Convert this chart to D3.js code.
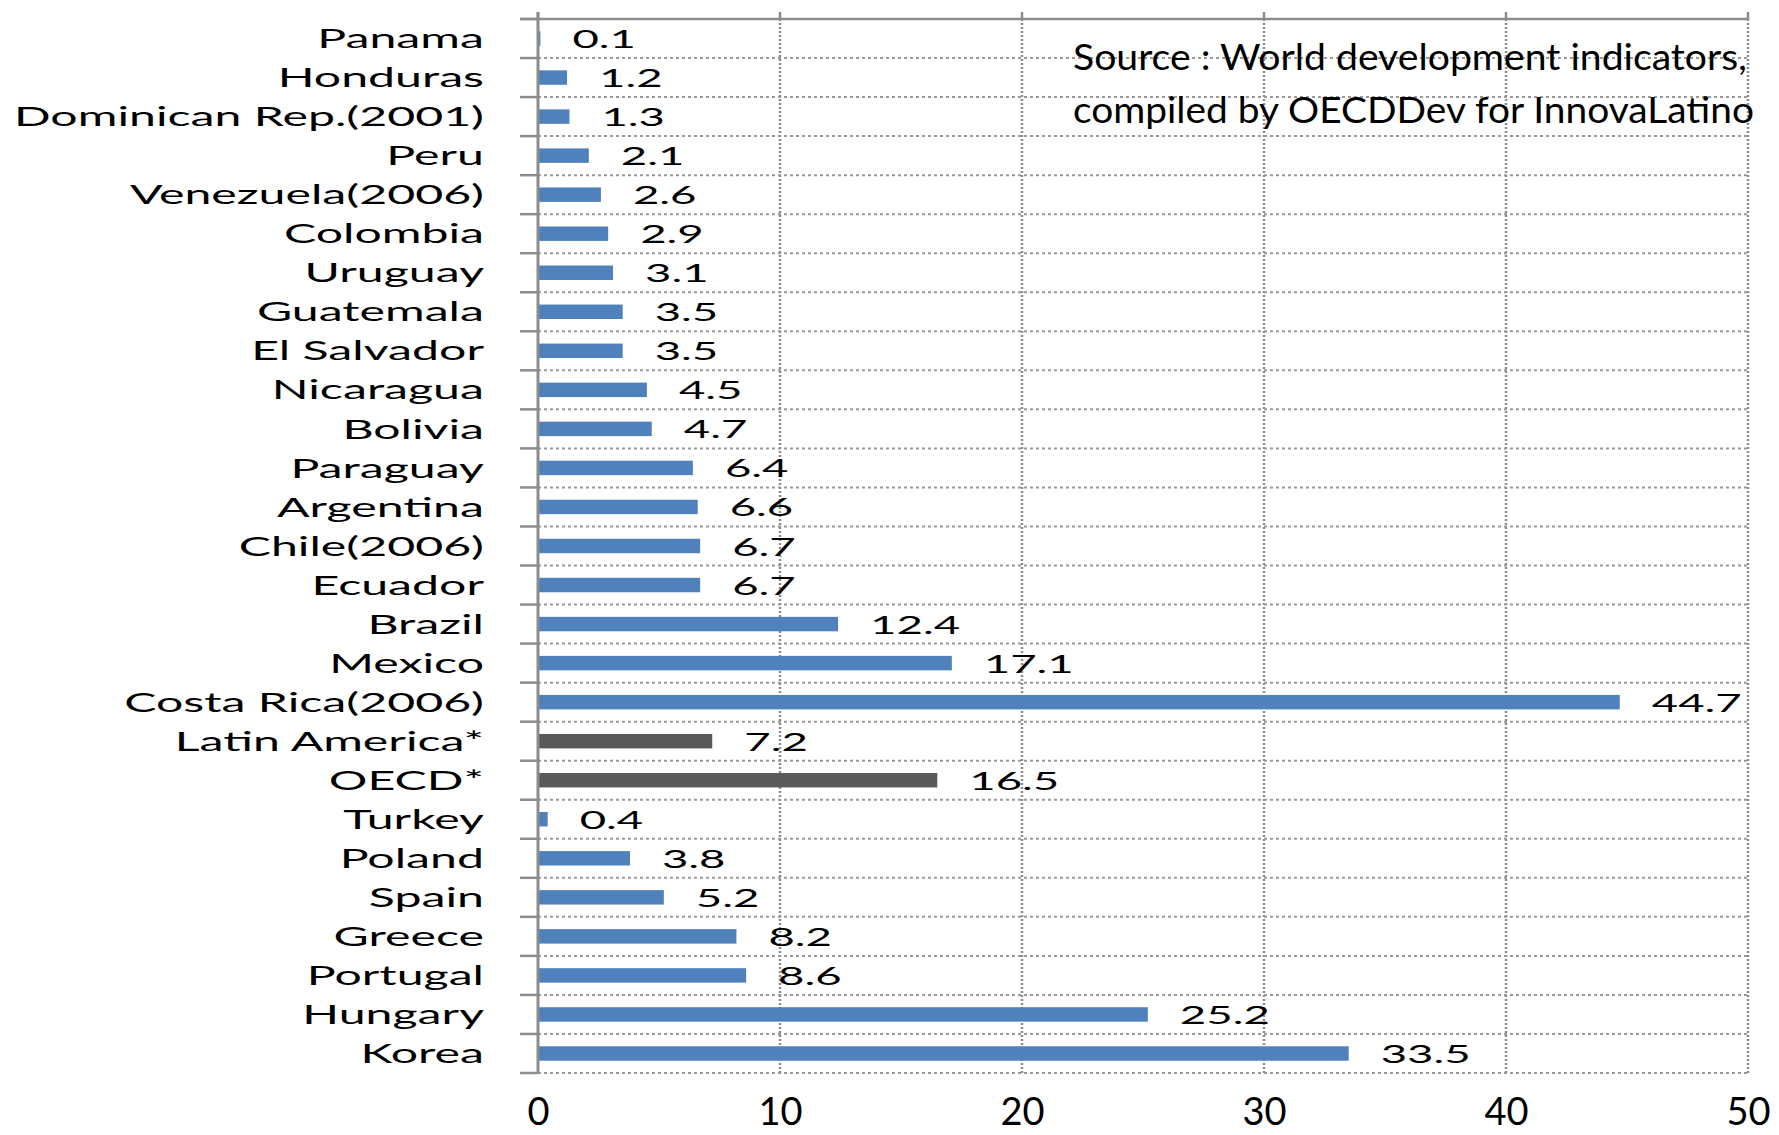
<!DOCTYPE html>
<html>
<head>
<meta charset="utf-8">
<script src="https://cdn.jsdelivr.net/npm/d3@7"></script>
<style>
  body { margin: 0; background: #fff; }
  svg { display: block; font-family: Lato, "Open Sans", sans-serif; }
</style>
</head>
<body>
<svg id="chart" width="1779" height="1135"></svg>
<script>
// R&D share data, top to bottom as in the chart
var categories = ["Panama", "Honduras", "Dominican Rep.(2001)", "Peru", "Venezuela(2006)",
    "Colombia", "Uruguay", "Guatemala", "El Salvador", "Nicaragua", "Bolivia", "Paraguay",
    "Argentina", "Chile(2006)", "Ecuador", "Brazil", "Mexico", "Costa Rica(2006)",
    "Latin America*", "OECD*", "Turkey", "Poland", "Spain", "Greece", "Portugal",
    "Hungary", "Korea"];
var values = [0.1, 1.2, 1.3, 2.1, 2.6, 2.9, 3.1, 3.5, 3.5, 4.5, 4.7, 6.4, 6.6, 6.7, 6.7,
    12.4, 17.1, 44.7, 7.2, 16.5, 0.4, 3.8, 5.2, 8.2, 8.6, 25.2, 33.5];
var aggregates = ["Latin America*", "OECD*"];
var xTicks = [0, 10, 20, 30, 40, 50];
var sourceLines = ["Source : World development indicators,",
    "compiled by OECDDev for InnovaLatino"];

var svg = d3.select("#chart");
var gridColor = "#8c8c8c";

var x = d3.scaleLinear().domain([0, 50]).range([538, 1748]);
var y = d3.scaleBand().domain(categories).range([19, 1073]);
var bw = y.bandwidth();
var top0 = y.range()[0], bottom0 = y.range()[1];

// boundaries between rows
var bounds = categories.map(function (c) { return y(c) + bw; });

// vertical dotted gridlines
svg.append("g").selectAll("line")
    .data(xTicks.slice(1))
    .join("line")
    .attr("x1", function (d) { return x(d); })
    .attr("x2", function (d) { return x(d); })
    .attr("y1", top0).attr("y2", bottom0)
    .attr("stroke", gridColor).attr("stroke-width", 2.5)
    .attr("stroke-dasharray", "2,2");

// horizontal dotted gridlines
svg.append("g").selectAll("line")
    .data(bounds)
    .join("line")
    .attr("x1", x(0)).attr("x2", x(50))
    .attr("y1", function (d) { return d; })
    .attr("y2", function (d) { return d; })
    .attr("stroke", "#999").attr("stroke-width", 2)
    .attr("stroke-dasharray", "3,3");

// top value axis line with up ticks
svg.append("line")
    .attr("x1", 520).attr("x2", x(50))
    .attr("y1", top0).attr("y2", top0)
    .attr("stroke", gridColor).attr("stroke-width", 2.5);
svg.append("g").selectAll("line")
    .data(xTicks)
    .join("line")
    .attr("x1", function (d) { return x(d); })
    .attr("x2", function (d) { return x(d); })
    .attr("y1", top0 - 7).attr("y2", top0)
    .attr("stroke", gridColor).attr("stroke-width", 2.5);

// bars
var barH = bw * 0.37;
svg.append("g").selectAll("rect")
    .data(categories)
    .join("rect")
    .attr("x", x(0))
    .attr("y", function (c) { return y(c) + (bw - barH) / 2; })
    .attr("width", function (c, i) { return x(values[i]) - x(0); })
    .attr("height", barH)
    .attr("fill", function (c) { return aggregates.indexOf(c) >= 0 ? "#595959" : "#4f81bd"; });

// category axis line + ticks at row boundaries
svg.append("line")
    .attr("x1", x(0)).attr("x2", x(0))
    .attr("y1", top0 - 7).attr("y2", bottom0)
    .attr("stroke", gridColor).attr("stroke-width", 3);
svg.append("g").selectAll("line")
    .data([top0].concat(bounds))
    .join("line")
    .attr("x1", 520).attr("x2", x(0))
    .attr("y1", function (d) { return d; })
    .attr("y2", function (d) { return d; })
    .attr("stroke", gridColor).attr("stroke-width", 2.5);

// helper: natural width of a string at given font size
function textWidth(str, size) {
    var t = svg.append("text").attr("font-size", size).text(str);
    var w = t.node().getComputedTextLength();
    t.remove();
    return w;
}

// category labels (stretched wide like the original)
var catSize = 26;
var catScale = 470 / textWidth("Dominican Rep.(2001)", catSize);
var yAxis = svg.append("g")
    .attr("transform", "translate(" + x(0) + ",0)")
    .call(d3.axisLeft(y).tickSize(0).tickPadding(54));
yAxis.select(".domain").remove();
yAxis.selectAll("text")
    .attr("font-family", "Lato, sans-serif")
    .attr("font-size", catSize)
    .attr("fill", "#000")
    .attr("dy", "0.37em")
    .attr("x", -54 / catScale)
    .attr("transform", "scale(" + catScale + ",1)");

// value labels
var valSize = 25;
var valScale = 90 / textWidth("12.4", valSize);
svg.append("g").selectAll("text")
    .data(categories)
    .join("text")
    .attr("transform", function (c, i) {
        return "translate(" + (x(values[i]) + 32) + "," + (y(c) + bw / 2) + ") scale(" + valScale + ",1)";
    })
    .attr("dy", "0.38em")
    .attr("font-size", valSize)
    .attr("fill", "#000")
    .text(function (c, i) { return values[i]; });

// bottom tick labels
var xAxis = svg.append("g")
    .attr("transform", "translate(0," + bottom0 + ")")
    .call(d3.axisBottom(x).tickValues(xTicks).tickSize(0).tickPadding(25));
xAxis.select(".domain").remove();
xAxis.selectAll("text")
    .attr("font-family", "Lato, sans-serif")
    .attr("font-size", 38)
    .attr("fill", "#000");

// source note
var srcWidths = [674, 681];
svg.append("g").selectAll("text")
    .data(sourceLines)
    .join("text")
    .attr("x", 1073)
    .attr("y", function (d, i) { return 70 + i * 53; })
    .attr("font-size", 37)
    .attr("fill", "#000")
    .attr("textLength", function (d, i) { return srcWidths[i]; })
    .attr("lengthAdjust", "spacingAndGlyphs")
    .text(function (d) { return d; });
</script>
</body>
</html>
